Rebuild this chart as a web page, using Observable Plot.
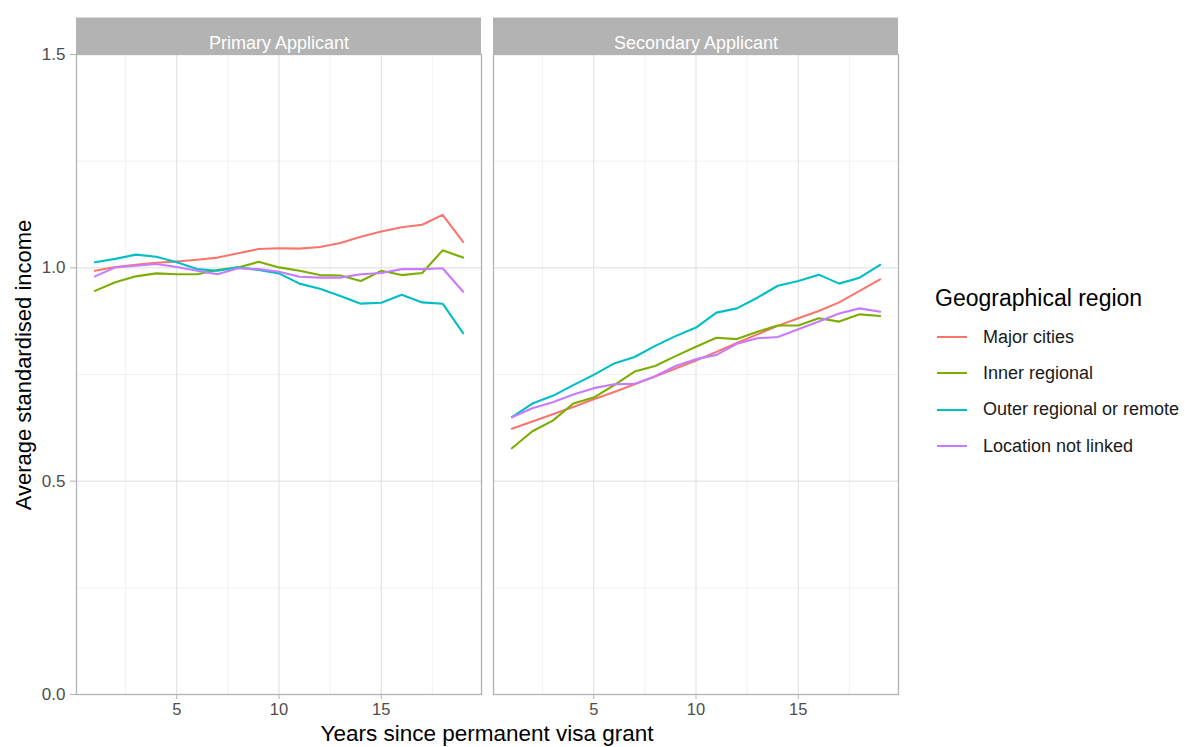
<!DOCTYPE html>
<html>
<head>
<meta charset="utf-8">
<script src="https://cdn.jsdelivr.net/npm/d3@7"></script>
<script src="https://cdn.jsdelivr.net/npm/@observablehq/plot@0.6"></script>
<style>
  html, body { margin: 0; padding: 0; background: #fff; }
  #wrap { position: relative; width: 1185px; height: 747px; font-family: "Liberation Sans", Arial, sans-serif; overflow: hidden; }
  #chart svg { display: block; }
  .ttl { position: absolute; color: #000; white-space: nowrap; line-height: 1; }
  #legend { position: absolute; left: 935px; top: 284px; }
  #legend .lt { font-size: 23px; line-height: 28px; color: #000; margin-bottom: 7px; white-space: nowrap; }
  #legend .it { display: flex; align-items: center; height: 36.3px; font-size: 18px; color: #1a1a1a; white-space: nowrap; }
  #legend .sw { width: 30px; height: 2px; margin-left: 2px; margin-right: 16px; }
</style>
</head>
<body>
<div id="wrap">
  <div id="chart"></div>
  <div class="ttl" id="xtitle" style="left:0;width:974px;text-align:center;top:723px;font-size:22.5px;">Years since permanent visa grant</div>
  <div class="ttl" id="ytitle" style="left:24px;top:365px;font-size:22px;transform:translate(-50%,-50%) rotate(-90deg);">Average standardised income</div>
  <div id="legend"></div>
</div>
<script>
const panels = ["Primary Applicant", "Secondary Applicant"];
const regions = ["Major cities", "Inner regional", "Outer regional or remote", "Location not linked"];
const colors = ["#F8766D", "#7CAE00", "#00BFC4", "#C77CFF"];
const years = [1,2,3,4,5,6,7,8,9,10,11,12,13,14,15,16,17,18,19];

// Primary Applicant
const majorPrimary = [0.993,1.002,1.007,1.012,1.015,1.019,1.024,1.034,1.044,1.046,1.045,1.049,1.058,1.073,1.085,1.095,1.101,1.124,1.061];
const innerPrimary = [0.946,0.966,0.980,0.987,0.985,0.985,0.995,1.001,1.014,1.001,0.993,0.983,0.982,0.969,0.993,0.983,0.988,1.041,1.024];
const outerPrimary = [1.013,1.021,1.031,1.026,1.013,0.997,0.993,1.001,0.995,0.987,0.963,0.951,0.934,0.916,0.918,0.937,0.919,0.916,0.847];
const notLinkedPrimary = [0.980,1.001,1.005,1.009,1.002,0.993,0.985,0.999,0.997,0.991,0.979,0.977,0.977,0.985,0.988,0.997,0.997,0.999,0.944];

// Secondary Applicant
const majorSecondary = [0.623,0.640,0.657,0.674,0.692,0.709,0.727,0.745,0.764,0.783,0.803,0.824,0.844,0.864,0.882,0.899,0.919,0.946,0.973];
const innerSecondary = [0.577,0.617,0.642,0.682,0.696,0.725,0.757,0.770,0.793,0.815,0.836,0.833,0.850,0.865,0.865,0.882,0.874,0.891,0.887];
const outerSecondary = [0.650,0.682,0.700,0.725,0.749,0.776,0.791,0.817,0.840,0.860,0.895,0.905,0.930,0.958,0.969,0.984,0.963,0.977,1.007];
const notLinkedSecondary = [0.650,0.671,0.685,0.703,0.718,0.727,0.728,0.746,0.770,0.786,0.796,0.822,0.835,0.838,0.856,0.874,0.893,0.905,0.897];

const yTicks = [0, 0.5, 1.0, 1.5];
const yMinor = [0.25, 0.75, 1.25];
const xTicks = [5, 10, 15];
const xMinor = [2.5, 7.5, 12.5, 17.5];

const series = [
  [panels[0], regions[0], majorPrimary],
  [panels[0], regions[1], innerPrimary],
  [panels[0], regions[2], outerPrimary],
  [panels[0], regions[3], notLinkedPrimary],
  [panels[1], regions[0], majorSecondary],
  [panels[1], regions[1], innerSecondary],
  [panels[1], regions[2], outerSecondary],
  [panels[1], regions[3], notLinkedSecondary]
];
const data = series.flatMap(([panel, region, vals]) =>
  vals.map((v, i) => ({panel, region, year: years[i], value: v})));
const strips = panels.map(p => ({panel: p}));

const chart = Plot.plot({
  width: 1185,
  height: 747,
  marginLeft: 75,
  marginRight: 286,
  marginTop: 54,
  marginBottom: 53,
  style: {fontFamily: "Liberation Sans, Arial, sans-serif", background: "#fff"},
  fx: {domain: panels, axis: null, paddingInner: 0.0287, paddingOuter: 0},
  x: {domain: [0.1, 19.9], axis: null},
  y: {domain: [0, 1.5], axis: null},
  color: {domain: regions, range: colors},
  marks: [
    Plot.gridX(xMinor, {stroke: "#DEDEDE", strokeOpacity: 0.55, strokeWidth: 0.7}),
    Plot.gridY(yMinor, {stroke: "#DEDEDE", strokeOpacity: 0.55, strokeWidth: 0.7}),
    Plot.gridX(xTicks, {stroke: "#DEDEDE", strokeOpacity: 1, strokeWidth: 1}),
    Plot.gridY(yTicks, {stroke: "#DEDEDE", strokeOpacity: 1, strokeWidth: 1}),
    Plot.line(data, {x: "year", y: "value", z: "region", stroke: "region", fx: "panel", strokeWidth: 2.1}),
    Plot.frame({stroke: "#B3B3B3", strokeWidth: 1.3}),
    Plot.rect(strips, {fx: "panel", y1: 1.5, y2: 1.5, insetTop: -36.5, fill: "#B3B3B3"}),
    Plot.text(strips, {fx: "panel", text: "panel", frameAnchor: "top", dy: -18, fill: "white", fontSize: 18}),
    Plot.axisY(yTicks, {anchor: "left", tickFormat: d3.format(".1f"), tickSize: 6, tickPadding: 5, stroke: "#B3B3B3", fill: "#4D4D4D", fontSize: 17, label: null}),
    Plot.axisX(xTicks, {anchor: "bottom", tickSize: 5, tickPadding: 4, stroke: "#B3B3B3", fill: "#4D4D4D", fontSize: 16.5, label: null})
  ]
});
document.getElementById("chart").appendChild(chart);

const legend = document.getElementById("legend");
const lt = document.createElement("div");
lt.className = "lt";
lt.textContent = "Geographical region";
legend.appendChild(lt);
regions.forEach((r, i) => {
  const it = document.createElement("div");
  it.className = "it";
  const sw = document.createElement("div");
  sw.className = "sw";
  sw.style.background = colors[i];
  const tx = document.createElement("span");
  tx.textContent = r;
  it.appendChild(sw);
  it.appendChild(tx);
  legend.appendChild(it);
});
</script>
</body>
</html>
